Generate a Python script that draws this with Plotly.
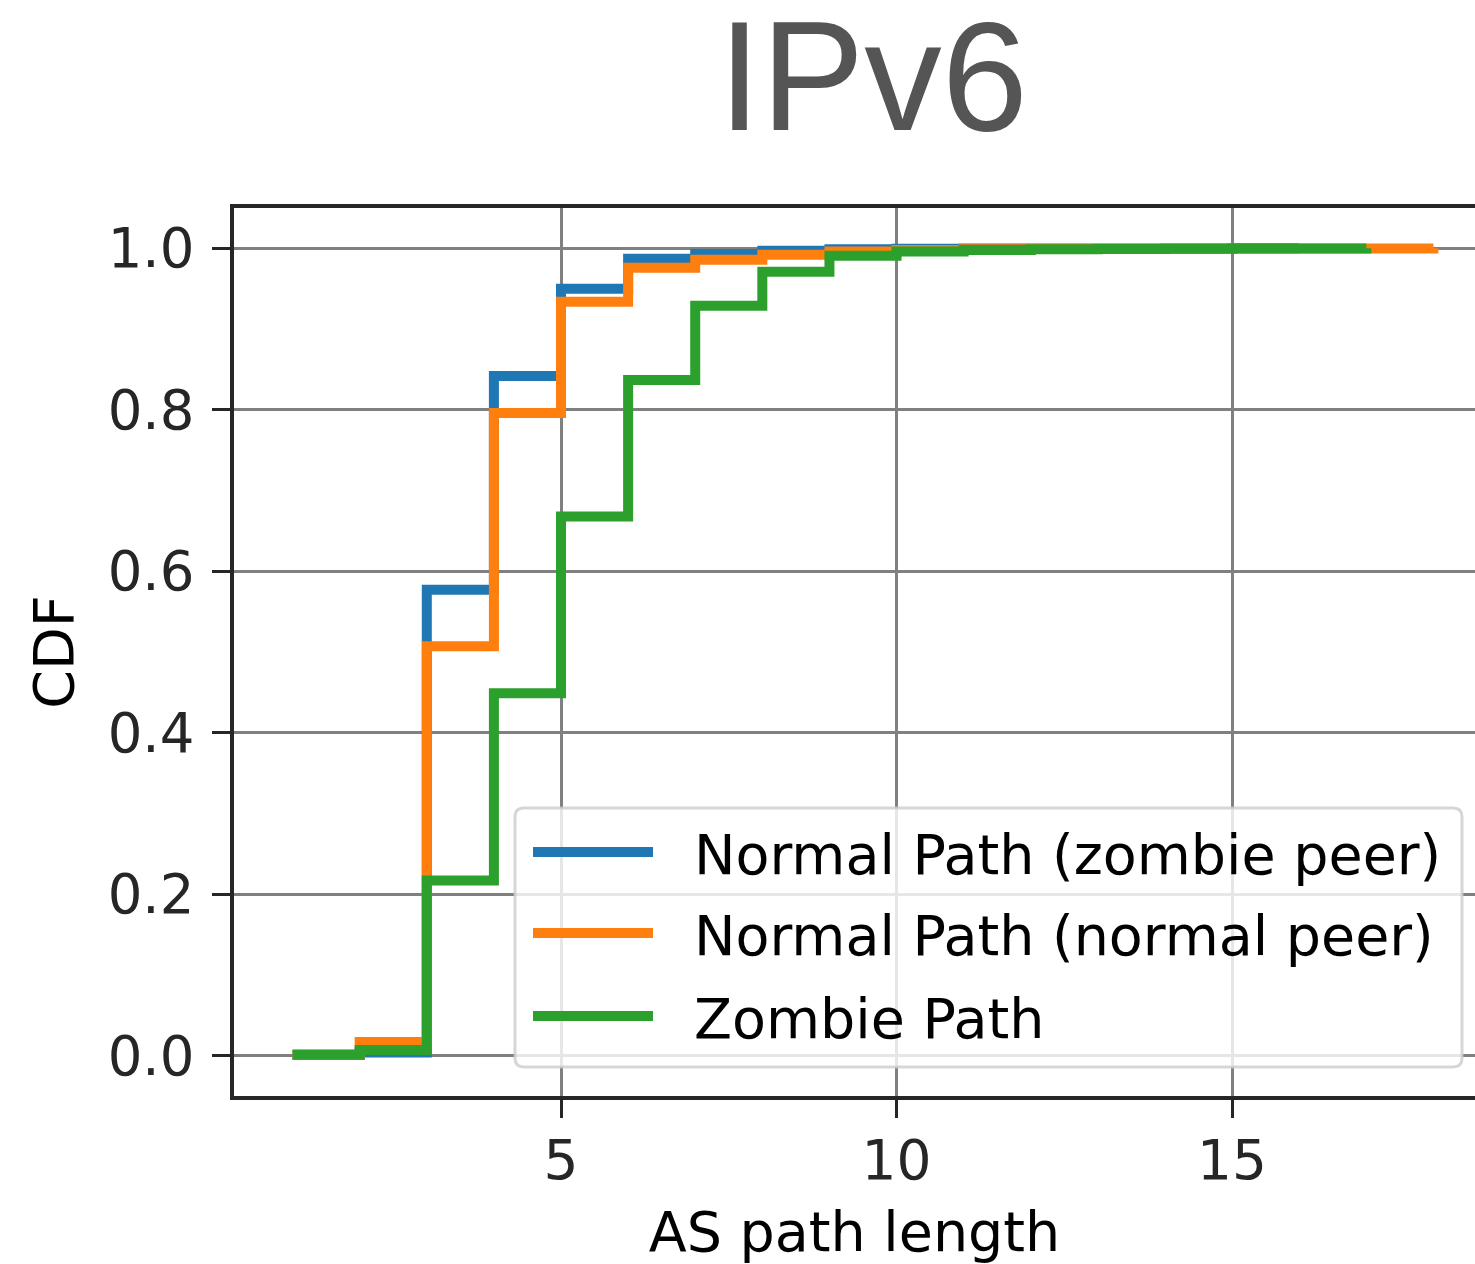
import plotly.graph_objects as go

# ---------------- data ----------------
path_len_blue = [1, 2, 3, 4, 5, 6, 7, 8, 9, 10, 11, 12, 13, 14, 15, 16]
cdf_blue = [0.001, 0.004, 0.577, 0.842, 0.950, 0.987, 0.993, 0.997, 0.999,
            0.9995, 0.9997, 0.9998, 0.9999, 0.9999, 1.0, 1.0]

path_len_orange = [1, 2, 3, 4, 5, 6, 7, 8, 9, 10, 11, 12, 13, 14, 15, 16, 17, 18]
cdf_orange = [0.001, 0.017, 0.507, 0.796, 0.934, 0.976, 0.986, 0.992, 0.996,
              0.998, 0.999, 0.9993, 0.9995, 0.9997, 0.9998, 0.9999, 0.99995, 1.0]

path_len_green = [1, 2, 3, 4, 5, 6, 7, 8, 9, 10, 11, 12, 13, 14, 15, 16, 17]
cdf_green = [0.001, 0.007, 0.217, 0.449, 0.668, 0.837, 0.929, 0.971, 0.991,
             0.996, 0.998, 0.999, 0.9993, 0.9995, 0.9997, 0.9999, 1.0]

series_names = ["Normal Path (zombie peer)", "Normal Path (normal peer)", "Zombie Path"]
series_colors = ["#1f77b4", "#ff7f0e", "#2ca02c"]

x_ticks = [5, 10, 15]
y_ticks = [0.0, 0.2, 0.4, 0.6, 0.8, 1.0]
y_tick_labels = ["0.0", "0.2", "0.4", "0.6", "0.8", "1.0"]

# ---------------- figure geometry (screen px; body margin removed) ----------------
W, H = 1475, 1264
PL, PT, PR, PB = 234, 208, 1475, 1096          # plot area in screen px
L, T, R, B = PL, PT, W - PR, H - PB
PW, PH = PR - PL, PB - PT

def px(xs):
    return (xs - PL) / PW

def py(ys):
    return (PB - ys) / PH

fig = go.Figure()
all_series = [(path_len_blue, cdf_blue), (path_len_orange, cdf_orange), (path_len_green, cdf_green)]
for (xs, ys), name, col in zip(all_series, series_names, series_colors):
    fig.add_trace(go.Scatter(x=xs, y=ys, mode="lines", name=name,
                             line=dict(color=col, width=10, shape="hv"),
                             showlegend=False))

axis_col = "#262626"
font_fam = "DejaVu Sans"

fig.update_layout(
    width=W, height=H,
    margin=dict(l=L, r=R, t=T, b=B, autoexpand=False),
    plot_bgcolor="white", paper_bgcolor="white",
    title=dict(text="IPv6", x=873 / W, xref="container", xanchor="center",
               y=1 - 76 / H, yref="container", yanchor="middle",
               font=dict(family="Liberation Sans", size=155, color="#555555")),
    xaxis=dict(range=[0.127, 18.62], tickvals=x_ticks, ticks="outside", ticklen=18,
               tickwidth=3, tickcolor=axis_col, showline=True, linecolor=axis_col,
               linewidth=3.5, mirror=True, showgrid=True, gridcolor="#808080",
               gridwidth=3, zeroline=False, ticklabelstandoff=-5,
               tickfont=dict(family=font_fam, size=55, color=axis_col),
               title=dict(text="AS path length", standoff=40,
                          font=dict(family=font_fam, size=55.5, color="black"))),
    yaxis=dict(range=[-0.05, 1.05], tickvals=y_ticks, ticktext=y_tick_labels,
               ticks="outside", ticklen=18, tickwidth=3, tickcolor=axis_col,
               showline=True, linecolor=axis_col, linewidth=3.5, showgrid=True,
               gridcolor="#808080", gridwidth=3, zeroline=False, ticklabelstandoff=7,
               tickfont=dict(family=font_fam, size=54.5, color=axis_col),
               title=dict(text="CDF", standoff=17,
                          font=dict(family=font_fam, size=55.5, color="black"))),
)

# ---------------- legend (matplotlib-style box) ----------------
x0, x1, y0, y1, rr = 515, 1462, 808, 1067, 9
path = (f"M {px(x0 + rr):.5f},{py(y0):.5f} L {px(x1 - rr):.5f},{py(y0):.5f} "
        f"Q {px(x1):.5f},{py(y0):.5f} {px(x1):.5f},{py(y0 + rr):.5f} "
        f"L {px(x1):.5f},{py(y1 - rr):.5f} "
        f"Q {px(x1):.5f},{py(y1):.5f} {px(x1 - rr):.5f},{py(y1):.5f} "
        f"L {px(x0 + rr):.5f},{py(y1):.5f} "
        f"Q {px(x0):.5f},{py(y1):.5f} {px(x0):.5f},{py(y1 - rr):.5f} "
        f"L {px(x0):.5f},{py(y0 + rr):.5f} "
        f"Q {px(x0):.5f},{py(y0):.5f} {px(x0 + rr):.5f},{py(y0):.5f} Z")
fig.add_shape(type="path", path=path, xref="paper", yref="paper",
              fillcolor="rgba(255,255,255,0.8)", line=dict(color="rgba(204,204,204,0.8)", width=3),
              layer="above")

row_y = [852, 933, 1016]
for name, col, ry_ in zip(series_names, series_colors, row_y):
    fig.add_shape(type="line", xref="paper", yref="paper",
                  x0=px(533), x1=px(653), y0=py(ry_), y1=py(ry_),
                  line=dict(color=col, width=10), layer="above")
    fig.add_annotation(text=name, xref="paper", yref="paper", x=px(692), y=py(ry_ + 2),
                       xanchor="left", yanchor="middle", showarrow=False,
                       font=dict(family=font_fam, size=55.5, color="black"))

fig.write_html("out.html", config={"displayModeBar": False},
               post_script="document.body.style.margin='0px';document.body.style.overflow='hidden';")
